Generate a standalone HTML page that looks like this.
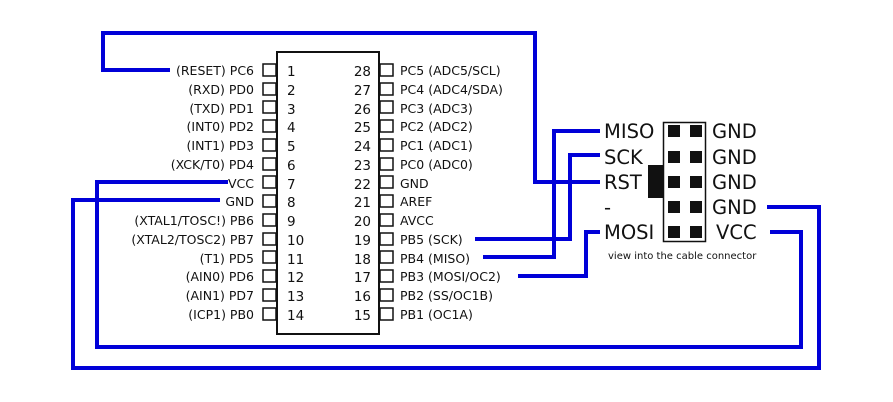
<!DOCTYPE html>
<html><head><meta charset="utf-8"><style>
html,body{margin:0;padding:0;background:#fff;}
svg{display:block;}
text{font-family:"DejaVu Sans","Liberation Sans",sans-serif;fill:#111;}
</style></head><body>
<svg width="893" height="402" viewBox="0 0 893 402" xmlns="http://www.w3.org/2000/svg">
<g fill="none" stroke="#0000d8" stroke-width="4" stroke-linejoin="miter">
<polyline points="170,70 103,70 103,33 535,33 535,182 600,182"/>
<polyline points="228,182 97,182 97,347 801,347 801,232 770,232"/>
<polyline points="220,200 73,200 73,368 819,368 819,207 767,207"/>
<polyline points="475,239 570,239 570,155 600,155"/>
<polyline points="483,257 554,257 554,131 600,131"/>
<polyline points="518,276 586,276 586,232 600,232"/>
</g>
<rect x="277" y="52" width="102" height="282" fill="none" stroke="#111" stroke-width="2"/>
<g fill="none" stroke="#111" stroke-width="1.5">
<rect x="263" y="64" width="13" height="12"/><rect x="263" y="83" width="13" height="12"/><rect x="263" y="101" width="13" height="12"/><rect x="263" y="120" width="13" height="12"/><rect x="263" y="139" width="13" height="12"/><rect x="263" y="158" width="13" height="12"/><rect x="263" y="176" width="13" height="12"/><rect x="263" y="195" width="13" height="12"/><rect x="263" y="214" width="13" height="12"/><rect x="263" y="233" width="13" height="12"/><rect x="263" y="251" width="13" height="12"/><rect x="263" y="270" width="13" height="12"/><rect x="263" y="289" width="13" height="12"/><rect x="263" y="308" width="13" height="12"/>
<rect x="380" y="64" width="13" height="12"/><rect x="380" y="83" width="13" height="12"/><rect x="380" y="101" width="13" height="12"/><rect x="380" y="120" width="13" height="12"/><rect x="380" y="139" width="13" height="12"/><rect x="380" y="158" width="13" height="12"/><rect x="380" y="176" width="13" height="12"/><rect x="380" y="195" width="13" height="12"/><rect x="380" y="214" width="13" height="12"/><rect x="380" y="233" width="13" height="12"/><rect x="380" y="251" width="13" height="12"/><rect x="380" y="270" width="13" height="12"/><rect x="380" y="289" width="13" height="12"/><rect x="380" y="308" width="13" height="12"/>
</g>
<g font-size="12.5" text-anchor="end">
<text x="254" y="75">(RESET) PC6</text><text x="254" y="94">(RXD) PD0</text><text x="254" y="113">(TXD) PD1</text><text x="254" y="131">(INT0) PD2</text><text x="254" y="150">(INT1) PD3</text><text x="254" y="169">(XCK/T0) PD4</text><text x="254" y="188">VCC</text><text x="254" y="206">GND</text><text x="254" y="225">(XTAL1/TOSC!) PB6</text><text x="254" y="244">(XTAL2/TOSC2) PB7</text><text x="254" y="263">(T1) PD5</text><text x="254" y="281">(AIN0) PD6</text><text x="254" y="300">(AIN1) PD7</text><text x="254" y="319">(ICP1) PB0</text>
</g>
<g font-size="13.5" text-anchor="end">
<text x="371" y="76">28</text><text x="371" y="95">27</text><text x="371" y="114">26</text><text x="371" y="132">25</text><text x="371" y="151">24</text><text x="371" y="170">23</text><text x="371" y="189">22</text><text x="371" y="207">21</text><text x="371" y="226">20</text><text x="371" y="245">19</text><text x="371" y="264">18</text><text x="371" y="282">17</text><text x="371" y="301">16</text><text x="371" y="320">15</text>
</g>
<g font-size="13.5">
<text x="287" y="76">1</text><text x="287" y="95">2</text><text x="287" y="114">3</text><text x="287" y="132">4</text><text x="287" y="151">5</text><text x="287" y="170">6</text><text x="287" y="189">7</text><text x="287" y="207">8</text><text x="287" y="226">9</text><text x="287" y="245">10</text><text x="287" y="264">11</text><text x="287" y="282">12</text><text x="287" y="301">13</text><text x="287" y="320">14</text>
</g>
<g font-size="12.5">
<text x="400" y="75">PC5 (ADC5/SCL)</text><text x="400" y="94">PC4 (ADC4/SDA)</text><text x="400" y="113">PC3 (ADC3)</text><text x="400" y="131">PC2 (ADC2)</text><text x="400" y="150">PC1 (ADC1)</text><text x="400" y="169">PC0 (ADC0)</text><text x="400" y="188">GND</text><text x="400" y="206">AREF</text><text x="400" y="225">AVCC</text><text x="400" y="244">PB5 (SCK)</text><text x="400" y="263">PB4 (MISO)</text><text x="400" y="281">PB3 (MOSI/OC2)</text><text x="400" y="300">PB2 (SS/OC1B)</text><text x="400" y="319">PB1 (OC1A)</text>
</g>
<rect x="663.5" y="122.5" width="42" height="119" fill="none" stroke="#111" stroke-width="1.5"/>
<rect x="648" y="165" width="15" height="33" fill="#111"/>
<g fill="#111">
<rect x="668" y="125" width="12" height="12"/><rect x="690" y="125" width="12" height="12"/>
<rect x="668" y="151" width="12" height="12"/><rect x="690" y="151" width="12" height="12"/>
<rect x="668" y="176" width="12" height="12"/><rect x="690" y="176" width="12" height="12"/>
<rect x="668" y="201" width="12" height="12"/><rect x="690" y="201" width="12" height="12"/>
<rect x="668" y="226" width="12" height="12"/><rect x="690" y="226" width="12" height="12"/>
</g>
<g font-size="19.5">
<text x="604" y="138">MISO</text><text x="604" y="164">SCK</text><text x="604" y="189">RST</text><text x="604" y="214">-</text><text x="604" y="239">MOSI</text>
<text x="712" y="138">GND</text><text x="712" y="164">GND</text><text x="712" y="189">GND</text><text x="712" y="214">GND</text><text x="716" y="239">VCC</text>
</g>
<text x="608" y="259" font-size="10">view into the cable connector</text>
</svg>
</body></html>
